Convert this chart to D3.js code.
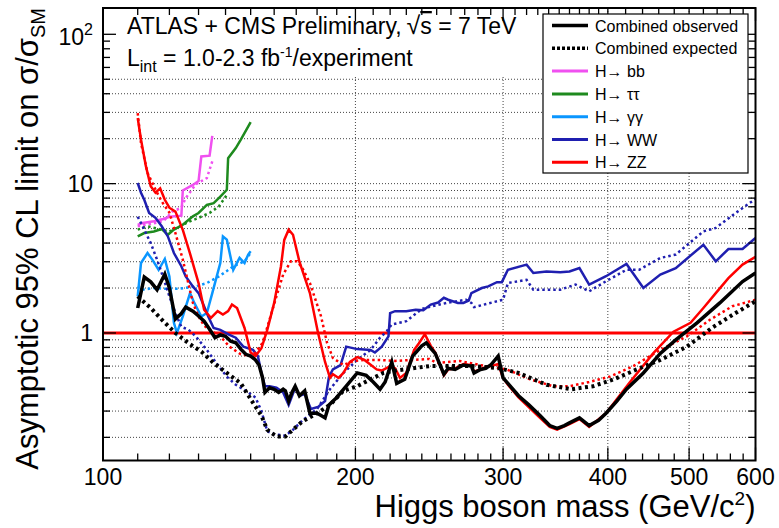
<!DOCTYPE html>
<html>
<head>
<meta charset="utf-8">
<title>Higgs combination limits</title>
<script src="https://d3js.org/d3.v7.min.js"></script>
<style>
  body { margin: 0; background: #fff; }
  svg { font-family: "Liberation Sans", Arial, Helvetica, sans-serif; }
</style>
</head>
<body>
<svg width="779" height="528"></svg>
<script>

// limits, [mass in GeV, limit on sigma/sigma_SM]
var combObs = [[110,1.47],[112,2.37],[114,2.2],[116,1.95],[118.5,2.48],[120,2.0],[122,1.24],[124,1.35],[125.5,1.49],
  [128,1.4],[130,1.3],[132,1.2],[134,1.06],[136,0.93],[138,0.97],[140,0.95],[142,0.88],[144,0.86],[146,0.78],
  [148,0.72],[150,0.70],[152,0.66],[153.5,0.61],[155,0.50],[156,0.40],[158,0.43],[160,0.42],[162,0.40],[164,0.42],
  [165,0.41],[166.5,0.35],[168,0.40],[169.5,0.44],[171.5,0.38],[174,0.41],[176.5,0.29],[180,0.29],[182,0.28],
  [184,0.27],[186,0.33],[190,0.37],[195,0.44],[201,0.54],[206,0.52],[210,0.47],[214,0.42],[217,0.47],[221,0.64],
  [224,0.46],[229,0.49],[234,0.70],[240,0.82],[243,0.86],[246,0.79],[249,0.73],[255,0.53],[258,0.58],[263,0.57],
  [269,0.61],[275,0.60],[277,0.54],[282,0.57],[286,0.58],[290,0.61],[296,0.70],[300,0.50],[304,0.46],[313,0.38],
  [322,0.33],[332,0.28],[341,0.24],[348,0.23],[355,0.24],[360,0.25],[370,0.27],[380,0.24],[390,0.26],[398,0.29],
  [410,0.35],[421,0.42],[441,0.54],[462,0.73],[482,0.90],[511,1.17],[544,1.59],[579,2.21],[600,2.52]];

var combExp = [[110,1.76],[114,1.47],[118,1.2],[122,1.0],[127,0.84],[131,0.75],[135.5,0.63],[140.5,0.54],[146,0.46],
  [151,0.34],[154.5,0.28],[157,0.225],[161,0.203],[165,0.203],[168.5,0.225],[173,0.256],[180,0.29],[186.5,0.33],
  [193.5,0.41],[201,0.44],[208.5,0.49],[216,0.54],[223,0.56],[234,0.58],[245,0.60],[257,0.60],[276,0.60],[297,0.58],
  [313,0.54],[338,0.45],[362,0.42],[384,0.44],[407,0.49],[433,0.57],[462,0.66],[497,0.81],[532,1.08],[568,1.36],[600,1.63]];

var bbObs = [[110,5.3],[111.5,5.45],[115,5.6],[118,5.8],[120,6.0],[124,6.1],[124.5,9.0],[128,9.8],[130,10.4],
  [131,15.2],[134,15.4],[135,20.9]];
var bbExp = [[110,5.18],[112.5,5.3],[118,5.6],[121,6.5],[124,6.9],[125.5,8.0],[129,9.9],[133,10.9],[135,14.1]];

var ttObs = [[110,4.43],[112,4.67],[115,4.78],[117.5,4.97],[119.5,4.55],[121.5,4.92],[124.5,5.3],[128,6.04],
  [130,6.36],[133,7.2],[135.5,7.4],[138,8.2],[140.5,9.1],[141,14.8],[144,17.3],[146,19.7],[150,25.8]];
var ttExp = [[110,4.92],[113,5.18],[116,5.0],[120,4.78],[123.5,5.18],[127,5.6],[130,5.9],[134,6.36],[137.5,7.05],[140.5,8.4]];

var ggObs = [[110,1.76],[111,2.94],[113,3.43],[114.5,3.10],[116.5,2.65],[118.5,3.13],[120,2.39],[121.5,1.17],
  [122.5,1.0],[124.5,1.29],[127,1.85],[128.5,1.59],[131,1.29],[133,1.36],[135,1.85],[138,2.94],[139,4.43],
  [140.5,4.22],[143,2.65],[145.5,3.18],[147.5,2.94],[149,3.35],[150,3.52]];
var ggExp = [[110,2.05],[111.5,1.95],[115,2.0],[118,1.98],[123.5,1.98],[129,2.05],[133,2.16],[137.5,2.39],
  [143,2.79],[147.5,3.02],[150,3.43]];

var wwObs = [[110,10.1],[111,8.7],[112,7.8],[113.5,6.36],[115.5,5.9],[117.5,5.18],[119.5,4.43],[121.5,3.43],
  [124,2.8],[125.5,2.39],[128,2.05],[130,1.85],[131.5,1.59],[133.5,1.29],[135.5,1.08],[138,1.05],[141.5,0.97],
  [144,0.93],[147,0.81],[151,0.77],[153,0.70],[154.5,0.54],[156,0.44],[158,0.44],[161,0.43],[164,0.40],[166.5,0.33],
  [169.5,0.43],[171.5,0.38],[174,0.39],[177,0.31],[180.5,0.32],[184,0.35],[186,0.51],[188,0.57],[192,0.61],
  [195,0.81],[201,0.78],[208.5,0.77],[211,0.74],[215,0.81],[219,0.95],[220,1.36],[223,1.40],[230,1.40],[236,1.43],
  [241,1.42],[246,1.55],[251,1.60],[255,1.72],[258,1.67],[265,1.59],[269,1.59],[273,1.65],[275,1.85],[283,2.0],
  [288,2.05],[295,2.19],[299,2.19],[304,2.65],[320,2.87],[326,2.52],[338,2.58],[351,2.55],[360,2.58],[370,2.72],
  [380,2.11],[398,2.40],[421,2.90],[441,2.0],[462,2.46],[482,2.72],[520,3.90],[538,3.02],[557,3.65],[579,3.65],[600,4.33]];
var wwExp = [[110,6.0],[111.5,5.18],[114,4.0],[116,3.1],[118,2.35],[120,1.76],[122,1.36],[124,1.1],[126.5,1.05],
  [129,0.95],[133,0.77],[136.5,0.63],[140.5,0.51],[144,0.45],[148,0.41],[152,0.37],[154.5,0.30],[157,0.22],
  [160,0.21],[165,0.205],[168.5,0.225],[173,0.26],[180,0.31],[186.5,0.42],[193.5,0.54],[201,0.66],[208.5,0.77],
  [214,0.93],[218,1.03],[221,1.14],[230,1.2],[240,1.45],[247,1.51],[257,1.59],[271,1.67],[275,1.59],[277,1.49],
  [300,1.67],[304,2.16],[320,2.27],[326,1.95],[351,1.95],[366,2.11],[380,1.90],[398,2.22],[421,2.65],[436,2.65],
  [462,3.18],[482,3.35],[520,4.79],[538,5.05],[568,6.36],[600,7.9]];

var zzObs = [[110,27.5],[111,19.7],[112.5,13.1],[114,9.6],[115.5,8.7],[117,9.3],[118.5,7.8],[120,6.9],[122,6.5],
  [124.5,4.9],[127,3.4],[130,2.16],[132,1.43],[133,1.36],[134.5,1.26],[137,1.40],[139,1.33],[141,1.40],[142.5,1.55],
  [144.5,1.47],[147.5,1.08],[150,0.74],[152,0.70],[154.5,0.79],[157,1.05],[160,1.59],[163,2.79],[164.5,4.2],
  [166.5,4.92],[168.5,4.55],[171.5,3.0],[176.5,1.85],[180.5,1.0],[184,0.64],[186.5,0.50],[188,0.53],[191,0.50],
  [193.5,0.54],[197,0.64],[201,0.69],[205,0.66],[212,0.57],[215,0.56],[220,0.60],[223,0.58],[226,0.50],[230,0.54],
  [235,0.77],[238,0.85],[242,0.98],[246,0.82],[249,0.74],[255,0.52],[258,0.57],[263,0.58],[269,0.62],[275,0.61],
  [277,0.55],[286,0.59],[290,0.60],[296,0.62],[300,0.50],[304,0.45],[313,0.37],[332,0.27],[341,0.235],[348,0.225],
  [360,0.245],[370,0.265],[380,0.235],[398,0.29],[424,0.46],[453,0.73],[479,1.02],[502,1.17],[520,1.47],[538,1.85],
  [557,2.33],[579,2.87],[600,3.23]];
var zzExp = [[110,29.7],[111,18.7],[113,11.8],[116,8.7],[117.5,7.6],[120,6.4],[122,4.67],[124.5,3.1],[128,1.59],
  [130,1.29],[132,1.12],[134,1.05],[138,0.95],[141.5,0.81],[146,0.72],[150,0.70],[152,0.74],[155,0.86],[158,1.23],
  [161,1.76],[164,2.46],[167.5,3.02],[170.5,3.02],[173,2.7],[176.5,2.16],[182,1.29],[185,0.86],[188,0.68],
  [193.5,0.61],[199,0.65],[205,0.66],[214,0.66],[223,0.65],[234,0.66],[245,0.67],[250,0.63],[266,0.65],[286,0.60],
  [303,0.57],[323,0.49],[344,0.44],[360,0.44],[380,0.47],[402,0.51],[429,0.60],[462,0.77],[497,0.95],[530,1.23],
  [563,1.51],[600,1.67]];

var xTickLabels = [100, 200, 300, 400, 500, 600];
var xGrid = [200, 300, 400, 500];
var yGrid = [0.2,0.3,0.4,0.5,0.6,0.7,0.8,0.9,1,2,3,4,5,6,7,8,9,10,20,30,40,50];
var yTickLabels = [[1, "1", ""], [10, "10", ""], [100, "10", "2"]];

var legendNames = ["Combined observed", "Combined expected", "H\u2192  bb", "H\u2192  \u03C4\u03C4",
  "H\u2192  \u03B3\u03B3", "H\u2192  WW", "H\u2192  ZZ"];
var legendColors = ["#000", "#000", "#f050f0", "#1e8a1e", "#0a96ff", "#1f1fb0", "#ff0000"];
var legendDash = [false, true, false, false, false, false, false];

var svg = d3.select("svg");
var pL = 103, pR = 755.5, pT = 8, pB = 460.5;

var x = d3.scaleLog().domain([100, 600]).range([pL, pR]);
var y = d3.scaleLog().domain([0.14, 150]).range([pB, pT]);

var line = d3.line()
  .x(function(d) { return x(d[0]); })
  .y(function(d) { return y(d[1]); });

svg.append("clipPath").attr("id", "frame")
  .append("rect").attr("x", pL).attr("y", pT).attr("width", pR - pL).attr("height", pB - pT);

// grid
svg.append("g").selectAll("line").data(yGrid).enter().append("line")
  .attr("x1", pL).attr("x2", pR)
  .attr("y1", function(d) { return y(d); }).attr("y2", function(d) { return y(d); })
  .style("stroke", "#444").style("stroke-width", 1).style("stroke-dasharray", "1,2");
svg.append("g").selectAll("line").data(xGrid).enter().append("line")
  .attr("x1", function(d) { return x(d); }).attr("x2", function(d) { return x(d); })
  .attr("y1", pT).attr("y2", pB)
  .style("stroke", "#444").style("stroke-width", 1).style("stroke-dasharray", "1,2");

// white box behind the header text
svg.append("rect").attr("x", pL + 1).attr("y", pT + 1).attr("width", 440).attr("height", y(50) - pT - 4)
  .style("fill", "#fff");

// SM line
svg.append("line").attr("x1", pL).attr("x2", pR).attr("y1", y(1)).attr("y2", y(1))
  .style("stroke", "#ff0000").style("stroke-width", 3);

var curves = svg.append("g").attr("clip-path", "url(#frame)");

function drawCurve(data, color, width, dash) {
  curves.append("path").datum(data)
    .attr("d", line)
    .style("fill", "none")
    .style("stroke", color)
    .style("stroke-width", width)
    .style("stroke-dasharray", dash ? dash : null);
}

drawCurve(bbExp, legendColors[2], 2.5, "2.5,3");
drawCurve(bbObs, legendColors[2], 2.5);
drawCurve(ttExp, legendColors[3], 2.5, "2.5,3");
drawCurve(ttObs, legendColors[3], 2.5);
drawCurve(ggExp, legendColors[4], 2.5, "2.5,3");
drawCurve(ggObs, legendColors[4], 2.5);
drawCurve(wwExp, legendColors[5], 2.5, "2.5,3");
drawCurve(wwObs, legendColors[5], 2.5);
drawCurve(zzExp, legendColors[6], 2.5, "2.5,3");
drawCurve(zzObs, legendColors[6], 2.5);
drawCurve(combExp, "#000", 4, "3,3.5");
drawCurve(combObs, "#000", 3.5);

// frame
svg.append("rect").attr("x", pL).attr("y", pT).attr("width", pR - pL).attr("height", pB - pT)
  .style("fill", "none").style("stroke", "#000").style("stroke-width", 2);

// ticks on all four sides, pointing inwards
var yTicks = [];
[0.1, 1, 10, 100].forEach(function(p) {
  for (var k = 1; k < 10; k++) {
    var v = +(k * p).toPrecision(3);
    if (v >= 0.14 && v <= 150) yTicks.push({v: v, major: k == 1});
  }
});
var xTicks = [];
for (var m = 110; m <= 600; m += (m < 400 ? 10 : 20)) xTicks.push({v: m, major: m % 100 == 0});

var ticks = svg.append("g").style("stroke", "#000").style("stroke-width", 1.3);
ticks.selectAll(".yl").data(yTicks).enter().append("line")
  .attr("x1", pL).attr("x2", function(d) { return pL + (d.major ? 13 : 7); })
  .attr("y1", function(d) { return y(d.v); }).attr("y2", function(d) { return y(d.v); });
ticks.selectAll(".yr").data(yTicks).enter().append("line")
  .attr("x1", pR).attr("x2", function(d) { return pR - (d.major ? 13 : 7); })
  .attr("y1", function(d) { return y(d.v); }).attr("y2", function(d) { return y(d.v); });
ticks.selectAll(".xb").data(xTicks).enter().append("line")
  .attr("x1", function(d) { return x(d.v); }).attr("x2", function(d) { return x(d.v); })
  .attr("y1", pB).attr("y2", function(d) { return pB - (d.major ? 13 : 7); });
ticks.selectAll(".xt").data(xTicks).enter().append("line")
  .attr("x1", function(d) { return x(d.v); }).attr("x2", function(d) { return x(d.v); })
  .attr("y1", pT).attr("y2", function(d) { return pT + (d.major ? 13 : 7); });

// tick labels
svg.append("g").selectAll("text").data(xTickLabels).enter().append("text")
  .attr("x", function(d) { return x(d); }).attr("y", pB + 24)
  .attr("text-anchor", "middle").style("font-size", "23px")
  .text(function(d) { return d; });

var yl = svg.append("g").selectAll("text").data(yTickLabels).enter().append("text")
  .attr("x", 93).attr("y", function(d) { return y(d[0]) + (d[2] ? 11 : 8); })
  .attr("text-anchor", "end").style("font-size", "23px");
yl.append("tspan").text(function(d) { return d[1]; });
yl.append("tspan").attr("dy", -10).style("font-size", "16px").text(function(d) { return d[2]; });

// axis titles
var xt = svg.append("text").attr("x", pR).attr("y", 517).attr("text-anchor", "end").style("font-size", "31px");
xt.append("tspan").text("Higgs boson mass (GeV/c");
xt.append("tspan").attr("dy", -12).style("font-size", "19px").text("2");
xt.append("tspan").attr("dy", 12).text(")");

var yt = svg.append("text").attr("transform", "translate(38," + pT + ") rotate(-90)")
  .attr("text-anchor", "end").style("font-size", "31px");
yt.append("tspan").text("Asymptotic 95% CL limit on \u03C3/\u03C3");
yt.append("tspan").attr("dy", 7).style("font-size", "20px").text("SM");

// header
var t1 = svg.append("text").attr("x", 127).attr("y", 34).style("font-size", "23px");
t1.append("tspan").text("ATLAS + CMS Preliminary,");
t1.append("tspan").attr("dx", 5).style("font-size", "25px").text("\u221A");
t1.append("tspan").style("text-decoration", "overline").text("s");
t1.append("tspan").text(" = 7 TeV");

var t2 = svg.append("text").attr("x", 127).attr("y", 66).style("font-size", "23px");
t2.append("tspan").text("L");
t2.append("tspan").attr("dy", 6).style("font-size", "16px").text("int");
t2.append("tspan").attr("dy", -6).text(" = 1.0-2.3 fb");
t2.append("tspan").attr("dy", -9).style("font-size", "14px").text("-1");
t2.append("tspan").attr("dy", 9).text("/experiment");

// legend
var lg = svg.append("g");
lg.append("rect").attr("x", 543).attr("y", 14).attr("width", 205).attr("height", 159)
  .style("fill", "#fff").style("stroke", "#000").style("stroke-width", 1.2);
var entry = lg.selectAll(".entry").data(legendNames).enter().append("g")
  .attr("transform", function(d, i) { return "translate(0," + (25.5 + i * 22.8) + ")"; });
entry.append("line").attr("x1", 552).attr("x2", 588).attr("y1", 0).attr("y2", 0)
  .style("stroke", function(d, i) { return legendColors[i]; })
  .style("stroke-width", function(d, i) { return i < 2 ? 3.5 : 3; })
  .style("stroke-dasharray", function(d, i) { return legendDash[i] ? "3,2" : null; });
entry.append("text").attr("x", 595).attr("y", 6).style("font-size", "16px")
  .text(function(d) { return d; });

</script>
</body>
</html>
